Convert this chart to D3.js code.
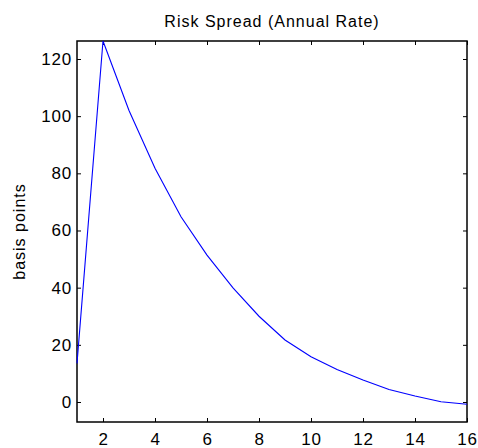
<!DOCTYPE html>
<html>
<head>
<meta charset="utf-8">
<script src="https://cdn.jsdelivr.net/npm/d3@7"></script>
<style>
  body { margin: 0; background: #fff; }
  text { font-family: "Liberation Sans", Arial, sans-serif; fill: #000; }
</style>
</head>
<body>
<div id="chart"></div>
<script>
// data
var periods = [1, 2, 3, 4, 5, 6, 7, 8, 9, 10, 11, 12, 13, 14, 15, 16];
var spread = [13.5, 126.3, 102, 81.8, 64.8, 51.4, 39.9, 30, 21.7, 15.8, 11.4, 7.7, 4.4, 2.1, 0.1, -0.8];
var xTicks = [2, 4, 6, 8, 10, 12, 14, 16];
var yTicks = [0, 20, 40, 60, 80, 100, 120];

var width = 478, height = 448;
var margin = { top: 41, right: 11, bottom: 26, left: 77 };

var svg = d3.select("#chart").append("svg")
	.attr("width", width)
	.attr("height", height);

var x = d3.scaleLinear().domain([1, 16]).range([margin.left, width - margin.right]);
var y = d3.scaleLinear().domain([-7, 126.3]).range([height - margin.bottom, margin.top]);

//styles the tick labels a bit wider like the original
function labelStyle(g) {
	g.select(".domain").remove();
	g.selectAll("text")
		.attr("font-size", 17)
		.style("font-family", "Liberation Sans, Arial, sans-serif")
		.style("letter-spacing", "0.8px");
}

//bottom axis with labels, top one only ticks
svg.append("g")
	.attr("transform", "translate(0," + (height - margin.bottom) + ")")
	.call(d3.axisBottom(x).tickValues(xTicks).tickSize(-4).tickPadding(11).tickSizeOuter(0))
	.call(labelStyle);

svg.append("g")
	.attr("transform", "translate(0," + margin.top + ")")
	.call(d3.axisTop(x).tickValues(xTicks).tickSize(-4).tickFormat("").tickSizeOuter(0))
	.call(g => g.select(".domain").remove());

svg.append("g")
	.attr("transform", "translate(" + margin.left + ",0)")
	.call(d3.axisLeft(y).tickValues(yTicks).tickSize(-4).tickPadding(5).tickSizeOuter(0))
	.call(labelStyle);

svg.append("g")
	.attr("transform", "translate(" + (width - margin.right) + ",0)")
	.call(d3.axisRight(y).tickValues(yTicks).tickSize(-4).tickFormat("").tickSizeOuter(0))
	.call(g => g.select(".domain").remove());

//the box around the plot
svg.append("rect")
	.attr("x", margin.left)
	.attr("y", margin.top)
	.attr("width", width - margin.left - margin.right)
	.attr("height", height - margin.top - margin.bottom)
	.attr("fill", "none")
	.attr("stroke", "#000")
	.attr("stroke-width", 1.5);

var line = d3.line()
	.x(function (d, i) { return x(periods[i]); })
	.y(function (d) { return y(d); });

svg.append("path")
	.datum(spread)
	.attr("d", line)
	.attr("fill", "none")
	.attr("stroke", "#0000ff")
	.attr("stroke-width", 1.1);

svg.append("text")
	.attr("x", (margin.left + width - margin.right) / 2)
	.attr("y", 27)
	.attr("text-anchor", "middle")
	.attr("font-size", 16)
	.style("letter-spacing", "1px")
	.text("Risk Spread (Annual Rate)");

svg.append("text")
	.attr("transform", "translate(25," + ((margin.top + height - margin.bottom) / 2) + ") rotate(-90)")
	.attr("text-anchor", "middle")
	.attr("font-size", 16)
	.style("letter-spacing", "1px")
	.text("basis points");
</script>
</body>
</html>
